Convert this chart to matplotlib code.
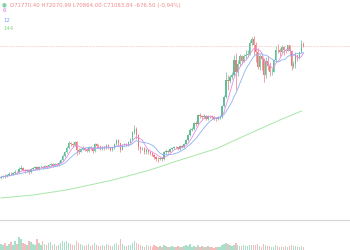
import matplotlib
matplotlib.use('Agg')
import matplotlib.pyplot as plt
from matplotlib.lines import Line2D
import numpy as np
import pandas as pd

# daily candles, prices in thousands of USD
first_open = 34.8
closes = [35.0, 35.4, 35.2, 35.6, 36.0, 35.8, 36.2, 36.5, 36.3, 37.3,
          37.6, 37.0, 36.6, 36.9, 36.4, 37.2, 37.4, 37.8, 37.3, 37.7,
          37.9, 37.6, 38.0, 37.8, 38.3, 38.5, 38.2, 38.6, 38.4, 39.0,
          39.7, 40.9, 41.9, 43.0, 44.3, 44.1, 43.8, 44.6, 42.5, 42.0,
          42.7, 43.1, 42.6, 42.3, 43.2, 43.0, 42.2, 44.0, 43.6, 43.5,
          42.8, 43.2, 42.9, 43.8, 43.0, 42.6, 42.9, 44.1, 45.1, 44.3,
          42.6, 43.8, 44.1, 43.9, 44.6, 45.3, 47.4, 48.3, 46.5, 43.3,
          42.7, 43.0, 41.8, 42.5, 41.9, 41.7, 41.1, 40.6, 40.1, 39.9,
          40.2, 40.0, 41.8, 42.3, 42.0, 42.7, 43.1, 43.3, 43.2, 42.8,
          43.5, 43.3, 44.2, 45.2, 46.6, 48.0, 48.3, 49.9, 49.7, 52.1,
          51.8, 51.6, 51.9, 51.0, 51.8, 51.7, 51.5, 51.1, 50.9, 51.3,
          51.6, 54.5, 57.1, 61.7, 61.5, 62.5, 63.1, 67.2, 63.9, 66.1,
          68.3, 67.0, 68.4, 68.5, 68.9, 71.9, 73.0, 71.4, 69.5, 65.3,
          68.4, 67.6, 63.0, 67.0, 65.5, 63.8, 64.0, 67.2, 70.0, 69.9,
          69.5, 70.7, 69.9, 69.6, 71.3, 69.6, 65.5, 66.0, 68.5, 67.8,
          69.4, 71.77, 71.08384]
highs = [35.3, 35.7, 35.8, 35.9, 36.4, 36.3, 36.5, 36.9, 36.8, 37.8,
         38.4, 37.9, 37.3, 37.2, 37.1, 37.5, 37.8, 38.1, 38.0, 38.0,
         38.3, 38.2, 38.3, 38.3, 38.7, 38.9, 38.8, 39.0, 38.9, 39.4,
         40.1, 41.3, 42.3, 43.5, 44.9, 44.8, 44.5, 45.0, 44.9, 43.0,
         43.1, 43.5, 43.4, 43.0, 43.6, 43.5, 43.2, 44.4, 44.3, 44.0,
         43.7, 43.6, 43.5, 44.1, 44.0, 43.2, 43.3, 44.5, 45.6, 45.4,
         44.5, 44.1, 44.5, 44.4, 45.0, 45.8, 47.8, 49.4, 48.8, 46.8,
         43.6, 43.4, 43.3, 42.9, 42.8, 42.3, 42.0, 41.4, 40.9, 40.5,
         40.6, 40.5, 42.1, 42.7, 42.6, 43.0, 43.4, 43.7, 43.6, 43.4,
         43.8, 43.8, 44.5, 45.6, 47.0, 48.4, 48.9, 50.3, 50.4, 52.5,
         52.6, 52.2, 52.3, 52.1, 52.2, 52.2, 52.0, 51.8, 51.5, 51.7,
         52.0, 54.9, 57.6, 64.0, 63.0, 63.2, 63.8, 68.6, 69.2, 67.2,
         68.8, 68.7, 68.9, 70.0, 69.9, 72.6, 73.6, 73.7, 72.3, 70.6,
         68.9, 68.6, 67.9, 68.1, 68.2, 66.6, 65.0, 67.6, 71.0, 71.5,
         70.4, 71.4, 71.0, 70.1, 71.4, 71.3, 69.9, 66.9, 69.3, 68.7,
         69.5, 72.8, 72.07099]
lows = [34.6, 34.8, 34.9, 35.0, 35.4, 35.5, 35.6, 36.0, 36.0, 36.1,
        37.1, 36.7, 36.2, 36.3, 35.9, 36.2, 37.0, 37.2, 37.0, 37.1,
        37.4, 37.3, 37.4, 37.5, 37.6, 38.0, 37.9, 38.0, 38.1, 38.2,
        38.8, 39.5, 40.6, 41.7, 42.8, 43.6, 43.3, 43.5, 41.1, 41.4,
        41.8, 42.4, 42.2, 41.9, 42.0, 42.6, 41.7, 42.0, 43.2, 43.0,
        42.4, 42.5, 42.5, 42.7, 42.7, 42.2, 42.3, 42.7, 43.8, 43.9,
        41.9, 42.4, 43.5, 43.5, 43.7, 44.4, 45.1, 47.0, 45.4, 42.6,
        41.6, 42.4, 41.4, 41.5, 41.4, 41.2, 40.7, 40.1, 39.4, 39.3,
        39.6, 39.5, 39.8, 41.5, 41.6, 41.8, 42.5, 42.8, 42.9, 42.5,
        42.6, 43.0, 43.1, 44.0, 45.0, 46.4, 47.6, 48.1, 49.2, 49.5,
        51.3, 51.1, 51.3, 50.6, 50.8, 51.3, 51.0, 50.6, 50.5, 50.6,
        51.0, 51.4, 54.3, 56.8, 58.9, 60.8, 62.0, 62.9, 59.0, 62.8,
        65.6, 66.0, 66.6, 67.5, 68.0, 68.7, 71.3, 68.6, 66.6, 64.8,
        64.6, 64.6, 61.2, 62.3, 64.5, 62.7, 63.2, 63.9, 67.0, 69.1,
        68.4, 68.8, 68.7, 69.1, 69.6, 68.2, 64.6, 64.9, 65.1, 66.9,
        67.6, 69.1, 70.864]
# volume, thousands of BTC
volumes = [30, 25, 35, 20, 30, 40, 25, 45, 30, 65,
           55, 35, 30, 25, 45, 40, 30, 25, 55, 35,
           25, 45, 30, 25, 35, 40, 25, 30, 20, 25,
           35, 45, 40, 45, 35, 30, 25, 25, 45, 35,
           30, 25, 20, 25, 30, 20, 25, 35, 25, 20,
           20, 25, 20, 30, 25, 20, 20, 30, 35, 25,
           55, 30, 20, 20, 25, 25, 35, 45, 35, 30,
           25, 20, 15, 25, 20, 20, 15, 25, 20, 15,
           20, 15, 25, 20, 15, 15, 20, 15, 15, 20,
           15, 15, 20, 25, 20, 30, 15, 20, 15, 25,
           15, 20, 15, 15, 20, 15, 15, 10, 15, 15,
           15, 25, 30, 35, 30, 25, 20, 25, 35, 25,
           20, 20, 25, 20, 20, 25, 25, 25, 25, 30,
           20, 15, 30, 25, 20, 20, 15, 15, 25, 20,
           15, 15, 15, 20, 15, 20, 25, 20, 20, 15,
           15, 20, 15]
# long moving average, read at a few candles
ma_long_idx = [0, 16, 33, 56, 75, 87, 109, 120, 129, 140, 151]
ma_long_val = [29.3, 30.1, 31.5, 34.2, 37.0, 39.2, 43.0, 45.8, 48.0, 50.7, 53.2]

header = 'O71770.40 H72070.99 L70864.00 C71083.84 -676.50 (-0.94%)'

up_col = '#5fbf96'
down_col = '#f07878'

opens = [first_open] + closes[:-1]
n = len(closes)
x = np.arange(n)
o = np.array(opens)
c = np.array(closes)
up = c >= o
cols = [up_col if u else down_col for u in up]

fig = plt.figure(figsize=(3.5, 2.5), dpi=100)
ax = fig.add_axes([0, 30 / 250, 1, 220 / 250])
vax = fig.add_axes([0, 0, 1, 29 / 250])

# wicks and bodies
ax.vlines(x, lows, highs, colors=cols, linewidth=0.5)
body = np.maximum(np.abs(c - o), 0.08)
ax.bar(x, body, bottom=np.minimum(o, c), width=0.72, color=cols, linewidth=0)

s = pd.Series(closes)
ax.plot(x, s.rolling(6, min_periods=1).mean(), color='#e88ae8', lw=0.6)
ax.plot(x, s.rolling(12, min_periods=1).mean(), color='#8fb2f2', lw=0.6)
ax.plot(ma_long_idx, ma_long_val, color='#a8e6a8', lw=0.7)

ax.axhline(closes[-1], color='#f5a3a3', lw=0.5, ls=(0, (1, 1.5)))

ax.set_xlim(-0.5, 175.4)
ax.set_ylim(23.234, 83.734)
ax.axis('off')

vcols = ['#aadfcb' if u else '#f6bcbc' for u in up]
vax.bar(x, volumes, width=0.72, color=vcols, linewidth=0)
vax.set_xlim(-0.5, 175.4)
vax.set_ylim(0, 145)
vax.axis('off')

fig.add_artist(Line2D([0, 1], [30 / 250, 30 / 250], color='#d6d6d6', lw=0.8))

# legend texts top left
fig.text(4 / 350, 1 - 5 / 250, '\u25cf', color='#7fd3a6', fontsize=4, ha='center', va='center')
fig.text(10 / 350, 1 - 5 / 250, header, color='#f08a8a', fontsize=3.9, va='center')
fig.text(3 / 350, 1 - 11 / 250, '6', color='#e070e0', fontsize=3.9, va='center')
fig.text(3 / 350, 1 - 20 / 250, '12', color='#7ea6ee', fontsize=3.9, va='center')
fig.text(3 / 350, 1 - 28 / 250, '144', color='#86d886', fontsize=3.9, va='center')

fig.savefig('out.png', dpi=100, facecolor='white')
